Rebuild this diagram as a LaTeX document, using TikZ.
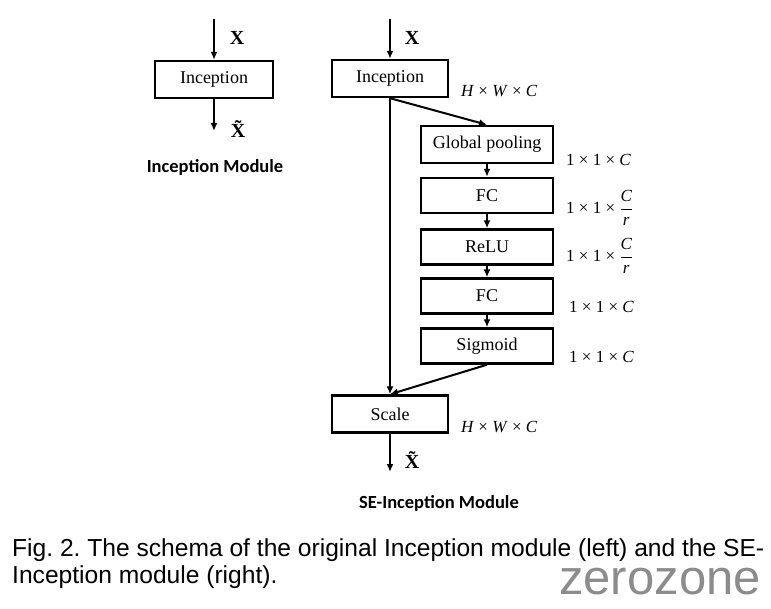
\documentclass[tikz,border=0pt]{standalone}
\usepackage{fontspec}
\setmainfont{Liberation Serif}
\newfontfamily\capfont{Liberation Sans}
\newfontfamily\modfont{Carlito}
\usetikzlibrary{arrows.meta,calc}
\newcommand{\Cr}{$\displaystyle\frac{\textit{C}}{\textit{r}}$}

\tikzset{
	block/.style={draw, line width=2.4pt, minimum width=116pt, minimum height=37pt, inner sep=0pt, font=\fontsize{18}{20}\selectfont},
	seblock/.style={block, minimum width=132pt, minimum height=35pt},
	flow/.style={line width=2pt, -{Latex[length=8pt,width=7pt]}},
	dims/.style={font=\fontsize{17}{19}\selectfont, inner sep=0pt},
	xlab/.style={font=\fontsize{20}{22}\selectfont\bfseries, inner sep=0pt},
	title/.style={font=\fontsize{18.5}{20}\selectfont\modfont\bfseries, inner sep=0pt}
}

\begin{document}
\frenchspacing
\begin{tikzpicture}[x=1pt, y=-1pt]
	\useasboundingbox (0,0) rectangle (771,609);
	% left: plain module
	\node[block, minimum width=118pt] (incL) at (214,79.5) {Inception};
	\coordinate (inL) at (214,19);
	\coordinate (outL) at (214,131);
	\draw[flow] (inL) -- (incL.north);
	\draw[flow] (incL.south) -- (outL);
	\node[xlab] (xL) at (237,38) {X};
	\node[xlab] (xtL) at (238,129) {\~{X}};
	\node[title] (titleL) at (215,167) {Inception Module};
	% right: SE module
	\node[block] (incR) at (390,78.5) {Inception};
	\node[seblock, minimum height=37pt] (pool) at (487,144.5) {Global pooling};
	\node[seblock] (fcA) at (487,195.5) {FC};
	\node[seblock] (relu) at (487,247) {ReLU};
	\node[seblock] (fcB) at (487,296) {FC};
	\node[seblock] (sigm) at (487,346) {Sigmoid};
	\node[block] (scale) at (390,414) {Scale};
	\coordinate (inR) at (390,19);
	\coordinate (outR) at (390,472);
	\draw[flow] (inR) -- (incR.north);
	\draw[flow] (incR.south) -- (pool.north);
	\draw[flow] (pool) -- (fcA);
	\draw[flow] (fcA) -- (relu);
	\draw[flow] (relu) -- (fcB);
	\draw[flow] (fcB) -- (sigm);
	\draw[flow] (incR.south) -- (scale.north);
	\draw[flow] (sigm.south) -- (scale.north);
	\draw[flow] (scale.south) -- (outR);
	\node[xlab] (xR) at (412,38) {X};
	\node[xlab] (xtR) at (412,460) {\~{X}};
	\node[dims, anchor=west] (dimIn) at (461,91) {\textit{H} × \textit{W} × \textit{C}};
	\node[dims, anchor=west] (dimPool) at (566,160) {1 × 1 × \textit{C}};
	\node[dims, anchor=west] (dimFcA) at (566,208) {1 × 1 × \Cr};
	\node[dims, anchor=west] (dimRelu) at (566,256) {1 × 1 × \Cr};
	\node[dims, anchor=west] (dimFcB) at (569,307) {1 × 1 × \textit{C}};
	\node[dims, anchor=west] (dimSigm) at (569,357) {1 × 1 × \textit{C}};
	\node[dims, anchor=west] (dimScale) at (461,427) {\textit{H} × \textit{W} × \textit{C}};
	\node[title] (titleR) at (439,503) {SE-Inception Module};
	% caption
	\node[anchor=north west, align=left, inner sep=0pt, font=\fontsize{24.6}{27}\selectfont\capfont] (caption) at (12,538)
		{Fig. 2. The schema of the original Inception module (left) and the SE-\\Inception module (right).};
	\node[anchor=base west, inner sep=0pt, text=black!45, font=\fontsize{49}{50}\selectfont\capfont] (mark) at (559,594) {zerozone};
\end{tikzpicture}
\end{document}
